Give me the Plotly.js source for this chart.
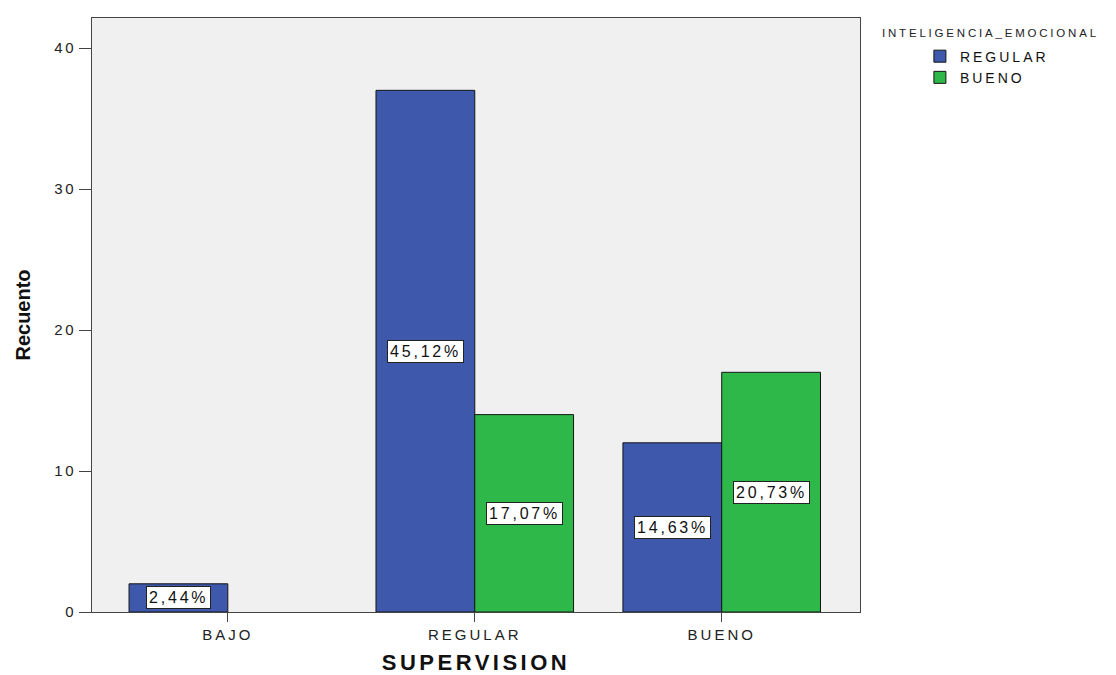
<!DOCTYPE html>
<html>
<head>
<meta charset="utf-8">
<script src="https://cdn.plot.ly/plotly-3.0.1.min.js"></script>
<style>
html,body{margin:0;padding:0;background:#fff;}
#chart{width:1116px;height:675px;}
.xtick text { letter-spacing: 3px; }
.ytick text { letter-spacing: 2.5px; }
.legendtext { letter-spacing: 3px; }
text.annotation-text { letter-spacing: 2.8px; }
text.xtitle { letter-spacing: 3.5px; }
</style>
</head>
<body>
<div id="chart"></div>
<script>
const categories = ["BAJO", "REGULAR", "BUENO"];
const seriesNames = ["REGULAR", "BUENO"];
const regularCounts = [2, 37, 12];
const buenoCounts = [null, 14, 17];
const regularPct = ["2,44%", "45,12%", "14,63%"];
const buenoPct = [null, "17,07%", "20,73%"];
const yTicks = [0, 10, 20, 30, 40];

const blue = "#3E58AC", green = "#2EB84A";
const font = "Liberation Sans, Arial, sans-serif";

const traces = [
  {type: "bar", name: seriesNames[0], x: categories, y: regularCounts,
   marker: {color: blue, line: {color: "#151515", width: 1}}, hoverinfo: "none"},
  {type: "bar", name: seriesNames[1], x: categories, y: buenoCounts,
   marker: {color: green, line: {color: "#151515", width: 1}}, hoverinfo: "none"}
];

const annotations = [];
const groups = [[regularCounts, regularPct, -0.2], [buenoCounts, buenoPct, 0.2]];
groups.forEach(([vals, pcts, off]) => {
  vals.forEach((v, i) => {
    if (v == null) return;
    annotations.push({x: i + off, y: v / 2, xref: "x", yref: "y", text: pcts[i],
      showarrow: false, bgcolor: "#ffffff", bordercolor: "#222", borderwidth: 1, borderpad: 2,
      font: {family: font, size: 16, color: "#111"}});
  });
});
annotations.push({xref: "paper", yref: "paper", x: 1.026, y: 0.975, xanchor: "left", yanchor: "middle",
  text: "INTELIGENCIA_EMOCIONAL", showarrow: false, font: {family: font, size: 11.5, color: "#222"}});

const layout = {
  width: 1116, height: 675,
  margin: {l: 92, r: 256, t: 18, b: 63},
  paper_bgcolor: "#ffffff", plot_bgcolor: "#f0f0f0",
  barmode: "group", bargap: 0.2, bargroupgap: 0,
  showlegend: true,
  legend: {x: 1.078, y: 0.962, xanchor: "left", yanchor: "top", bgcolor: "rgba(0,0,0,0)",
    font: {family: font, size: 14, color: "#111"}, tracegroupgap: 0, itemwidth: 30},
  xaxis: {type: "category", range: [-0.55, 2.56], showgrid: false, zeroline: false,
    showline: true, linecolor: "#444", linewidth: 1, mirror: true,
    ticks: "outside", ticklen: 9, tickcolor: "#444",
    tickfont: {family: font, size: 15, color: "#222"},
    title: {text: "<b>SUPERVISION</b>", font: {family: font, size: 22, color: "#111"}, standoff: 14}},
  yaxis: {range: [0, 42.13], tickvals: yTicks, showgrid: false, zeroline: false,
    showline: true, linecolor: "#444", linewidth: 1, mirror: true,
    ticks: "outside", ticklen: 12, tickcolor: "#444",
    tickfont: {family: font, size: 15, color: "#222"},
    title: {text: "<b>Recuento</b>", font: {family: font, size: 20, color: "#111"}, standoff: 18}},
  annotations: annotations
};

Plotly.newPlot("chart", traces, layout, {displayModeBar: false, staticPlot: true});
</script>
</body>
</html>
